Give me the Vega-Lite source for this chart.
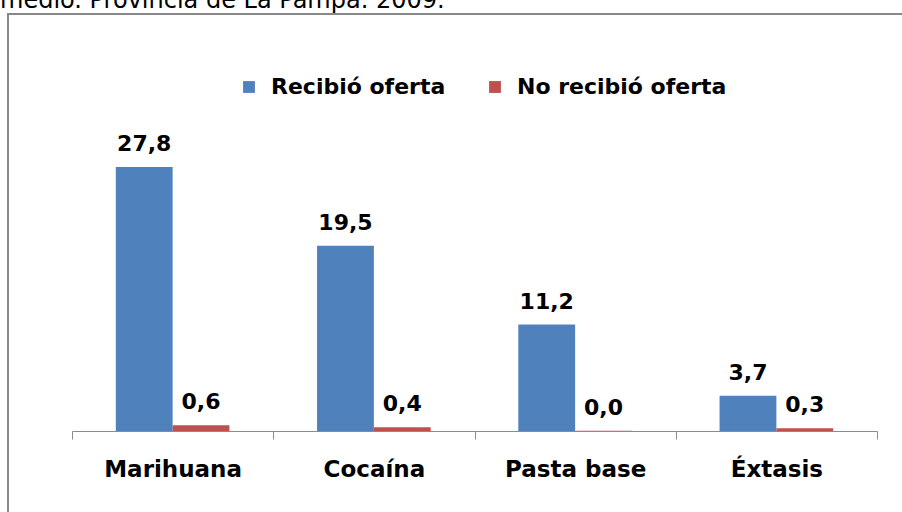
{
  "$schema": "https://vega.github.io/schema/vega-lite/v6.json",
  "width": 900,
  "height": 505,
  "autosize": {"type": "none"},
  "padding": {"left": 8, "top": 14, "right": 0, "bottom": 0},
  "background": "white",
  "title": {
    "text": "medio. Provincia de La Pampa. 2009.",
    "anchor": "start",
    "frame": "group",
    "font": "DejaVu Sans",
    "fontSize": 24,
    "fontWeight": "normal",
    "color": "black",
    "baseline": "alphabetic",
    "offset": 4,
    "dx": -8,
    "dy": 22
  },
  "data": {
    "values": [
      {"droga": "Marihuana", "serie": "Recibió oferta", "valor": 27.8},
      {"droga": "Marihuana", "serie": "No recibió oferta", "valor": 0.6},
      {"droga": "Cocaína", "serie": "Recibió oferta", "valor": 19.5},
      {"droga": "Cocaína", "serie": "No recibió oferta", "valor": 0.4},
      {"droga": "Pasta base", "serie": "Recibió oferta", "valor": 11.2},
      {"droga": "Pasta base", "serie": "No recibió oferta", "valor": 0.04},
      {"droga": "Éxtasis", "serie": "Recibió oferta", "valor": 3.7},
      {"droga": "Éxtasis", "serie": "No recibió oferta", "valor": 0.3}
    ]
  },
  "encoding": {
    "x": {
      "field": "droga",
      "type": "nominal",
      "sort": ["Marihuana", "Cocaína", "Pasta base", "Éxtasis"],
      "scale": {"range": [64, 869], "paddingInner": 0, "paddingOuter": 0},
      "axis": {
        "orient": "bottom",
        "offset": -88,
        "title": null,
        "labelAngle": 0,
        "domainColor": "#8c8c8c",
        "domainWidth": 1,
        "tickColor": "#8c8c8c",
        "tickWidth": 1,
        "tickSize": 8,
        "tickBand": "extent",
        "labelFont": "DejaVu Sans",
        "labelFontWeight": "bold",
        "labelFontSize": 23,
        "labelColor": "black",
        "labelPadding": 19
      }
    },
    "xOffset": {
      "field": "serie",
      "type": "nominal",
      "sort": ["Recibió oferta", "No recibió oferta"],
      "scale": {"paddingInner": 0, "paddingOuter": 0.771}
    },
    "y": {
      "field": "valor",
      "type": "quantitative",
      "scale": {"domain": [-9.26, 43.89], "nice": false, "zero": false},
      "axis": null
    }
  },
  "layer": [
    {
      "mark": {"type": "bar"},
      "encoding": {
        "y2": {"datum": 0},
        "color": {
          "field": "serie",
          "type": "nominal",
          "sort": ["Recibió oferta", "No recibió oferta"],
          "scale": {"range": ["#4F81BD", "#C0504D"]},
          "legend": {
            "title": null,
            "orient": "none",
            "legendX": 230,
            "legendY": 62,
            "direction": "horizontal",
            "symbolType": "square",
            "symbolSize": 140,
            "symbolStrokeWidth": 0,
            "symbolOpacity": 1,
            "labelFont": "DejaVu Sans",
            "labelFontWeight": "bold",
            "labelFontSize": 22,
            "labelColor": "black",
            "labelLimit": 400,
            "labelOffset": 11,
            "columnPadding": 38,
            "padding": 0
          }
        }
      }
    },
    {
      "mark": {
        "type": "text",
        "dy": -16,
        "baseline": "alphabetic",
        "font": "DejaVu Sans",
        "fontWeight": "bold",
        "fontSize": 22,
        "color": "black"
      },
      "encoding": {
        "text": {"field": "valor", "type": "quantitative", "format": ".1f"}
      }
    }
  ],
  "config": {
    "view": {"stroke": "#888888", "strokeWidth": 2},
    "locale": {
      "number": {"decimal": ",", "thousands": ".", "grouping": [3], "currency": ["$", ""]}
    }
  }
}
